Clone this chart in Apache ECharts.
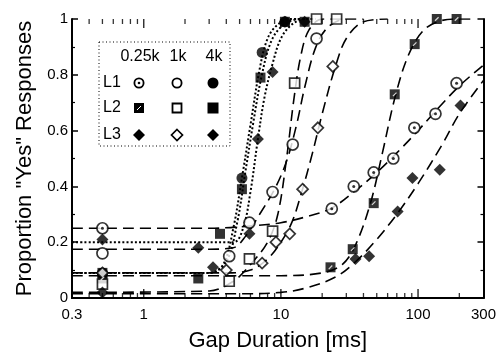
<!DOCTYPE html>
<html><head><meta charset="utf-8">
<script src="https://cdn.jsdelivr.net/npm/echarts@6/dist/echarts.min.js"></script>
<style>html,body{margin:0;padding:0;background:#fff}#c{width:499px;height:359px}</style>
</head><body><div id="c"></div>
<script>
// ---- tick definitions ----
const xTickLabels = [0.3, 1, 10, 100, 300];
const xTicksMinor = [0.4,0.5,0.6,0.7,0.8,0.9,2,3,4,5,6,7,8,9,20,30,40,50,60,70,80,90,200];
const xTicksMajor = [1, 10, 100];

// ---- measured points [gap ms, proportion] ----
const pts_L1_025k = [[0.5,0.25],[23.5,0.32],[34,0.40],[47.5,0.45],[66,0.50],[94,0.61],[134,0.66],[191,0.77]];
const pts_L1_1k   = [[0.5,0.16],[4.2,0.15],[5.9,0.27],[8.7,0.38],[12.2,0.55],[18.2,0.93]];
const pts_L1_4k   = [[0.5,0.09],[5.2,0.43],[7.3,0.88],[10.7,0.99]];
const pts_L2_025k = [[0.5,0.07],[23,0.11],[33.4,0.175],[47.5,0.34],[67.6,0.73],[94.5,0.91],[137,1.0],[191,1.0]];
const pts_L2_1k   = [[0.5,0.05],[4.2,0.06],[5.9,0.14],[8.7,0.24],[12.6,0.77],[18.2,1.0],[25.5,1.0]];
const pts_L2_4k   = [[0.5,0.09],[2.5,0.07],[3.6,0.23],[5.2,0.39],[7.1,0.79],[10.7,0.99],[14.9,0.99]];
const pts_L3_025k = [[0.5,0.02],[35,0.14],[44,0.15],[71,0.31],[91,0.43],[144,0.46],[204,0.69]];
const pts_L3_1k   = [[0.5,0.09],[4.0,0.10],[7.3,0.125],[9.2,0.20],[11.6,0.23],[14.4,0.39],[18.6,0.61],[23.9,0.83]];
const pts_L3_4k   = [[0.5,0.21],[2.5,0.18],[3.2,0.11],[5.9,0.23],[6.8,0.57],[8.7,0.81],[10.7,0.99],[14.9,0.99]];

// ---- fitted curves ----
const fit_L1_025k = [[0.3,0.25],[3,0.25],[6,0.258],[10,0.27],[15,0.29],[23,0.32],[34,0.38],[50,0.45],[70,0.52],[100,0.6],[140,0.68],[200,0.76],[300,0.835]];
const fit_L1_1k   = [[0.3,0.175],[3,0.175],[4.5,0.18],[5.5,0.22],[7,0.3],[9,0.39],[11,0.49],[13,0.62],[15,0.76],[18,0.9],[22,0.97],[30,1.0],[40,1.0]];
const fit_L1_4k   = [[0.3,0.09],[3,0.09],[3.8,0.12],[4.5,0.25],[5.2,0.43],[6,0.62],[7,0.82],[8,0.93],[9.5,0.98],[12,1.0],[15,1.0]];
const fit_L2_025k = [[0.3,0.08],[10,0.08],[20,0.09],[28,0.12],[35,0.19],[45,0.34],[55,0.52],[68,0.72],[85,0.87],[110,0.96],[150,0.995],[200,1.0],[250,1.0]];
const fit_L2_1k   = [[0.3,0.02],[3,0.025],[4.5,0.06],[6,0.12],[8,0.2],[9.5,0.3],[11,0.5],[12.5,0.72],[14,0.87],[16,0.96],[20,1.0],[30,1.0]];
const fit_L2_4k   = [[0.3,0.09],[3,0.09],[4,0.13],[4.8,0.27],[5.5,0.45],[6.3,0.63],[7.2,0.79],[8.5,0.92],[10.5,0.98],[14,1.0],[17,1.0]];
const fit_L3_025k = [[0.3,0.015],[5,0.015],[10,0.02],[15,0.035],[25,0.075],[35,0.13],[50,0.21],[70,0.3],[100,0.41],[150,0.55],[200,0.66],[300,0.78]];
const fit_L3_1k   = [[0.3,0.09],[4,0.09],[6,0.1],[8,0.14],[10,0.2],[12,0.27],[14,0.37],[17,0.52],[20,0.66],[25,0.83],[30,0.93],[40,0.99],[60,1.0]];
const fit_L3_4k   = [[0.3,0.2],[4.5,0.2],[5.3,0.25],[6,0.38],[6.8,0.57],[7.6,0.72],[8.7,0.84],[10,0.93],[12,0.98],[15,1.0],[18,1.0]];

const FONT = 'Liberation Sans, Arial, Helvetica, sans-serif';
const K = '#000';

function curve(data, dotted) {
  return { type:'line', data, smooth:0.35, showSymbol:false, symbol:'none', silent:true, z:2,
    lineStyle:{ color:K, width: dotted?2:1.6, type: dotted?[2,2.2]:[11,6] } };
}
function pts(data, symbol, filled, size) {
  return { type:'scatter', data, symbol, symbolSize:size, z:5, silent:true,
    itemStyle:{ color: filled?K:'#fff', borderColor:K, borderWidth: filled?0:1.7 } };
}
function tickSeries(list, yv, len, w) {
  return { type:'scatter', data:list.map(v=>[v,yv]), symbol:'rect', symbolSize:[w,len],
    symbolOffset:[0, yv===0 ? -len/2 : len/2], silent:true, z:6, clip:false,
    itemStyle:{ color:K } };
}

const series = [
  curve(fit_L1_025k,false), curve(fit_L1_1k,false), curve(fit_L1_4k,true),
  curve(fit_L2_025k,false), curve(fit_L2_1k,false), curve(fit_L2_4k,true),
  curve(fit_L3_025k,false), curve(fit_L3_1k,false), curve(fit_L3_4k,true),
  pts(pts_L1_025k,'circle',false,11),
  { type:'scatter', data:pts_L1_025k, symbol:'circle', symbolSize:3, z:6, silent:true, itemStyle:{color:K} },
  pts(pts_L1_1k,'circle',false,11),
  pts(pts_L1_4k,'circle',true,11),
  pts(pts_L2_025k,'rect',true,10),
  { type:'scatter', data:pts_L2_025k, symbol:'rect', symbolSize:[5,1.2], symbolRotate:45, z:6, silent:true, itemStyle:{color:'#fff'} },
  pts(pts_L2_1k,'rect',false,10),
  pts(pts_L2_4k,'rect',true,10),
  pts(pts_L3_025k,'diamond',true,12),
  pts(pts_L3_1k,'diamond',false,11),
  pts(pts_L3_4k,'diamond',true,12),
  tickSeries(xTicksMinor,0,5,1.3), tickSeries(xTicksMajor,0,9,1.5),
  tickSeries(xTicksMinor,1,5,1.3), tickSeries(xTicksMajor,1,9,1.5)
];

// ---- legend (graphic) ----
const lx = [139, 177, 213], ly = [83, 108, 135];
const LF = '16px ' + FONT;
const legend = [
  { type:'rect', shape:{x:99,y:42,width:131,height:104}, style:{fill:'none', stroke:K, lineWidth:1, lineDash:[1,2.5]} },
  { type:'text', x:140, y:57, style:{text:'0.25k', font:LF, fill:K, align:'center', verticalAlign:'middle'} },
  { type:'text', x:178, y:57, style:{text:'1k', font:LF, fill:K, align:'center', verticalAlign:'middle'} },
  { type:'text', x:214, y:57, style:{text:'4k', font:LF, fill:K, align:'center', verticalAlign:'middle'} },
  { type:'text', x:112, y:ly[0], style:{text:'L1', font:LF, fill:K, align:'center', verticalAlign:'middle'} },
  { type:'text', x:112, y:ly[1], style:{text:'L2', font:LF, fill:K, align:'center', verticalAlign:'middle'} },
  { type:'text', x:112, y:ly[2], style:{text:'L3', font:LF, fill:K, align:'center', verticalAlign:'middle'} },
  // L1
  { type:'circle', shape:{cx:lx[0],cy:ly[0],r:4.6}, style:{fill:'#fff',stroke:K,lineWidth:1.8} },
  { type:'circle', shape:{cx:lx[0],cy:ly[0],r:1.3}, style:{fill:K} },
  { type:'circle', shape:{cx:lx[1],cy:ly[0],r:4.6}, style:{fill:'#fff',stroke:K,lineWidth:1.8} },
  { type:'circle', shape:{cx:lx[2],cy:ly[0],r:5.5}, style:{fill:K} },
  // L2
  { type:'rect', shape:{x:lx[0]-5,y:ly[1]-5,width:10,height:10}, style:{fill:K} },
  { type:'line', shape:{x1:lx[0]-2,y1:ly[1]+2,x2:lx[0]+2,y2:ly[1]-2}, style:{stroke:'#fff',lineWidth:1} },
  { type:'rect', shape:{x:lx[1]-4.5,y:ly[1]-4.5,width:9,height:9}, style:{fill:'#fff',stroke:K,lineWidth:1.8} },
  { type:'rect', shape:{x:lx[2]-5.5,y:ly[1]-5.5,width:11,height:11}, style:{fill:K} },
  // L3
  { type:'polygon', shape:{points:[[lx[0],ly[2]-6],[lx[0]+6,ly[2]],[lx[0],ly[2]+6],[lx[0]-6,ly[2]]]}, style:{fill:K} },
  { type:'polygon', shape:{points:[[lx[1],ly[2]-5.5],[lx[1]+5.5,ly[2]],[lx[1],ly[2]+5.5],[lx[1]-5.5,ly[2]]]}, style:{fill:'#fff',stroke:K,lineWidth:1.7} },
  { type:'polygon', shape:{points:[[lx[2],ly[2]-6],[lx[2]+6,ly[2]],[lx[2],ly[2]+6],[lx[2]-6,ly[2]]]}, style:{fill:K} }
];

const chart = echarts.init(document.getElementById('c'), null, {renderer:'canvas'});
chart.setOption({
  animation:false,
  backgroundColor:'#fff',
  grid:{ left:72, right:15, top:19, bottom:61, containLabel:false },
  xAxis:[
    { type:'log', logBase:10, min:0.3, max:300, position:'bottom',
      name:'Gap Duration [ms]', nameLocation:'middle', nameGap:32,
      nameTextStyle:{ color:K, fontSize:22, fontFamily:FONT },
      axisLine:{ show:true, lineStyle:{ color:K, width:2 } },
      axisTick:{ show:false }, splitLine:{ show:false }, minorTick:{show:false},
      axisLabel:{ show:true, color:K, fontSize:15, fontFamily:FONT, margin:9, showMinLabel:true, showMaxLabel:true,
        formatter:(v)=>{ const r=+(+v).toPrecision(2); return xTickLabels.indexOf(r)>=0 ? String(r) : ''; } } },
    { type:'log', logBase:10, min:0.3, max:300, position:'top',
      axisLine:{ show:true, lineStyle:{ color:K, width:2 } },
      axisTick:{ show:false }, axisLabel:{ show:false }, splitLine:{ show:false } }
  ],
  yAxis:[
    { type:'value', min:0, max:1, interval:0.2, position:'left',
      name:'Proportion "Yes" Responses', nameLocation:'middle', nameGap:33, nameRotate:90,
      nameTextStyle:{ color:K, fontSize:22, fontFamily:FONT },
      axisLine:{ show:true, lineStyle:{ color:K, width:2 } },
      axisTick:{ show:true, inside:true, length:6, lineStyle:{ color:K, width:1.5 } },
      minorTick:{ show:true, splitNumber:2, length:3, lineStyle:{ color:K, width:1.2 } },
      splitLine:{ show:false },
      axisLabel:{ color:K, fontSize:15, fontFamily:FONT, margin:4,
        formatter:(v)=> (v===0||v===1) ? String(v) : v.toFixed(1) } },
    { type:'value', min:0, max:1, interval:0.2, position:'right',
      axisLine:{ show:true, lineStyle:{ color:K, width:2 } },
      axisTick:{ show:true, inside:true, length:6, lineStyle:{ color:K, width:1.5 } },
      minorTick:{ show:true, splitNumber:2, length:3, lineStyle:{ color:K, width:1.2 } },
      splitLine:{ show:false }, axisLabel:{ show:false } }
  ],
  series,
  graphic: legend
});
</script></body></html>
